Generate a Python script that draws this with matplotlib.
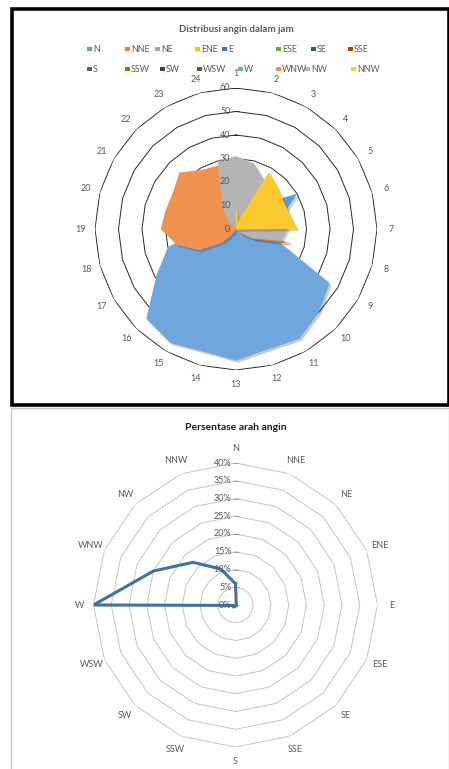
import numpy as np
import matplotlib
matplotlib.use("Agg")
import matplotlib.pyplot as plt
import matplotlib.patheffects as pe
from matplotlib.patches import Rectangle

plt.rcParams['font.family'] = ['Lato', 'DejaVu Sans']

# ---- data: hours per wind direction, for each of the 24 hour slots ----
HOURS = list(range(1, 25))
DIRS = ["N", "NNE", "NE", "ENE", "E", "ESE", "SE", "SSE",
        "S", "SSW", "SW", "WSW", "W", "WNW", "NW", "NNW"]
COLORS = ["#5B9BD5", "#ED7D31", "#A5A5A5", "#FFC000", "#4472C4", "#70AD47", "#255E91", "#9E480E",
          "#636363", "#997300", "#264478", "#43682B", "#6FA6DB", "#F0924F", "#B4B4B4", "#FAC92E"]

ZERO_HOURS = [0, 0, 0, 0, 0, 0, 0, 0, 0, 0, 0, 0, 0, 0, 0, 0, 0, 0, 0, 0, 0, 0, 0, 0]
hrs_N   = [0, 0, 0, 15, 30, 20, 0, 0, 0, 0, 0, 0, 0, 0, 0, 0, 0, 0, 0, 0, 0, 0, 0, 0]
hrs_W   = [1, 0, 0, 0, 0, 0, 2, 18, 46, 50, 54, 53, 56, 54, 56, 54, 39, 30, 15, 5, 2, 2, 2, 1]
hrs_WNW = [0, 0, 0, 0, 0, 0, 5, 25, 9, 3, 0, 0, 0, 0, 2, 8, 18, 26, 32, 31, 31, 34, 29, 28]
hrs_NW  = [31, 29, 24, 18, 18, 18, 22, 20, 8, 2, 0, 0, 0, 0, 0, 0, 0, 0, 0, 0, 0, 5, 12, 30]
hrs_NNW = [10, 3, 28, 25, 23.5, 23.6, 26, 1, 0, 0, 0, 0, 0, 0, 0, 0, 0, 0, 0, 0, 0, 0, 0, 0]

HOURS_BY_DIR = {d: ZERO_HOURS for d in DIRS}
HOURS_BY_DIR.update({"N": hrs_N, "W": hrs_W, "WNW": hrs_WNW, "NW": hrs_NW, "NNW": hrs_NNW})

HOUR_TICKS = [0, 10, 20, 30, 40, 50, 60]

# ---- data: share of each direction (%) ----
PCT = [6, 0.5, 0.3, 0.3, 0.3, 0.3, 0.3, 0.3, 0.3, 0.3, 0.8, 0.3, 40, 25, 17, 11]
PCT_TICKS = [0, 5, 10, 15, 20, 25, 30, 35, 40]

TXT = "#595959"
W, H = 449, 769
fig = plt.figure(figsize=(W / 100, H / 100), dpi=100)


def px(x, y):
    """pixel position (from top-left) -> figure fraction"""
    return x / W, 1 - y / H


def polygon_ring(ax, n, r, **kw):
    th = np.linspace(0, 2 * np.pi, n + 1)
    ax.plot(th, [r] * (n + 1), **kw)


def setup_polar(ax, rmax):
    ax.set_theta_zero_location("N")
    ax.set_theta_direction(-1)
    ax.set_ylim(0, rmax)
    ax.grid(False)
    ax.set_xticks([]); ax.set_yticks([])
    ax.spines["polar"].set_visible(False)
    ax.patch.set_visible(False)


# ================= top: hours radar =================
fig.add_artist(Rectangle(px(12, 405), (W - 12) / W, (405 - 9) / H,
                         transform=fig.transFigure, fill=False, ec="black", lw=2.6))
fig.text(*px(236, 29), "Distribusi angin dalam jam", ha="center", va="center",
         fontsize=7, fontweight="bold", color=TXT)

cx, cy, R = 236, 229, 141
ax1 = fig.add_axes([(cx - R) / W, 1 - (cy + R) / H, 2 * R / W, 2 * R / H], projection="polar")
setup_polar(ax1, 60)
theta24 = np.deg2rad(np.arange(24) * 15)
for v in HOUR_TICKS[1:]:
    polygon_ring(ax1, 24, v, color="#2b2b2b", lw=0.7, zorder=1)

for d, c in zip(DIRS, COLORS):
    vals = HOURS_BY_DIR[d]
    th = np.append(theta24, theta24[0])
    rv = np.append(vals, vals[0])
    ax1.fill(th, rv, color=c, lw=0, zorder=2,
             path_effects=[pe.SimplePatchShadow(offset=(1.5, -1.5), alpha=0.25), pe.Normal()])

for v in HOUR_TICKS:
    ax1.annotate(str(v), (0, v), xytext=(-4, 0), textcoords="offset points",
                 ha="right", va="center", fontsize=6.5, color=TXT, zorder=4)
ax1.plot([0] * len(HOUR_TICKS), HOUR_TICKS, ls="none", marker="_", ms=4, mew=0.7,
         color="#2b2b2b", zorder=1)
for t, h in zip(theta24, HOURS):
    ax1.text(t, 66, str(h), ha="center", va="center", fontsize=6.5, color=TXT, clip_on=False)

# legend, two rows of eight entries
leg_x = [[89, 127, 157, 197, 224, 278, 313, 350],
         [89, 127, 162, 199, 240, 278, 307, 353]]
leg_y = [49, 69]
for i, (d, c) in enumerate(zip(DIRS, COLORS)):
    row, col = divmod(i, 8)
    x, y = leg_x[row][col], leg_y[row]
    fig.add_artist(Rectangle(px(x - 2, y + 2), 4.5 / W, 4.5 / H, transform=fig.transFigure,
                             fc=c, ec="none"))
    fig.text(*px(x + 4, y), d, ha="left", va="center", fontsize=6.4, color=TXT)

# ================= bottom: percentage radar =================
fig.add_artist(Rectangle((11 / W, -0.01), (W - 11) / W, (769 - 408) / H + 0.01,
                         transform=fig.transFigure, fill=False, ec="#c8c8c8", lw=1))
fig.text(*px(236, 427), "Persentase arah angin", ha="center", va="center",
         fontsize=7.5, fontweight="bold", color="#1a1a1a")

cx, cy, R = 235.5, 605, 142
ax2 = fig.add_axes([(cx - R) / W, 1 - (cy + R) / H, 2 * R / W, 2 * R / H], projection="polar")
setup_polar(ax2, 40)
theta16 = np.deg2rad(np.arange(16) * 22.5)
for v in PCT_TICKS[1:]:
    polygon_ring(ax2, 16, v, color="#c4c4c4", lw=0.7, zorder=1)

th = np.append(theta16, theta16[0])
ax2.plot(th, np.append(PCT, PCT[0]), color="#41719C", lw=2.2, solid_joinstyle="round", zorder=3)

for v in PCT_TICKS:
    ax2.annotate(f"{v}%", (0, v), xytext=(-3, 0), textcoords="offset points",
                 ha="right", va="center", fontsize=6.5, color=TXT, zorder=4)
ax2.plot([0] * len(PCT_TICKS), PCT_TICKS, ls="none", marker="_", ms=4, mew=0.7,
         color="#a0a0a0", zorder=1)
for t, d in zip(theta16, DIRS):
    ax2.text(t, 44, d, ha="center", va="center", fontsize=6.5, color=TXT, clip_on=False)

fig.savefig("out.png", dpi=100)
